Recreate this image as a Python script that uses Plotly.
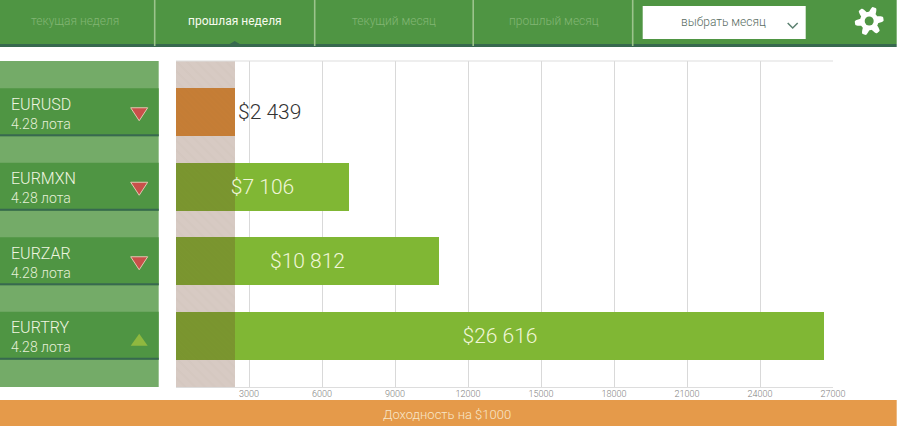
import numpy as np
import plotly.graph_objects as go

symbols = ["EURUSD", "EURMXN", "EURZAR", "EURTRY"]
lots = ["4.28 лота", "4.28 лота", "4.28 лота", "4.28 лота"]
profits = [2439, 7106, 10812, 26616]
value_labels = ["$2 439", "$7 106", "$10 812", "$26 616"]
directions = ["down", "down", "down", "up"]
x_ticks = [3000, 6000, 9000, 12000, 15000, 18000, 21000, 24000, 27000]
tabs = ["текущая неделя", "прошлая неделя", "текущий месяц", "прошлый месяц"]
active_tab = "прошлая неделя"
select_label = "выбрать месяц"
footer_label = "Доходность на $1000"

FONT = "Roboto"
THIN = 300
GREEN = "#4f9543"
PANEL = "#74ab68"
DARK = "#37694f"
SEP = "#9cc38c"
BAR_GREEN = "#80b734"
BAR_ORANGE = "#e7963d"
ORANGE = "#e59a4a"
BAND = "rgba(106,58,32,0.27)"

# page geometry in pixels
W, H = 900, 426
L, R, T, B = 176.3, 833.3, 61, 387
ROW = 74.5
Y_PAD = 0.688
BAR_H = 48


def px(x):
    return (x - L) / (R - L)


def py(y):
    return 1 - (y - T) / (B - T)


def rect(x0, y0, x1, y1, color):
    return dict(type="rect", xref="paper", yref="paper", x0=px(x0), x1=px(x1),
                y0=py(y0), y1=py(y1), fillcolor=color, line_width=0, layer="above")


def poly(points, color, line=None):
    d = "M " + " L ".join(f"{px(x):.5f},{py(y):.5f}" for x, y in points) + " Z"
    return dict(type="path", xref="paper", yref="paper", path=d, fillcolor=color,
                line=dict(width=0) if line is None else dict(width=1, color=line), layer="above")


def label(x, y, text, size, color, anchor="center", weight=THIN):
    return dict(xref="paper", yref="paper", x=px(x), y=py(y), text=text, showarrow=False,
                xanchor=anchor, yanchor="middle", borderpad=0,
                font=dict(family=FONT, weight=weight, size=size, color=color))


rows = list(range(len(symbols)))
fig = go.Figure()
fig.add_bar(x=profits, y=rows, orientation="h", width=BAR_H / ROW, hoverinfo="skip",
            marker=dict(color=[BAR_ORANGE if v == min(profits) else BAR_GREEN for v in profits], line_width=0))
# hatched band up to the smallest value, sits over the bars
fig.add_bar(x=[min(profits)], y=[sum(rows) / len(rows)], orientation="h", hoverinfo="skip",
            width=(B - T) / ROW,
            marker=dict(color=BAND, line_width=0,
                        pattern=dict(shape="\\", size=7, solidity=0.3, bgcolor=BAND,
                                     fgcolor="rgba(106,58,32,0.04)")))
# labels on their own trace so the band does not cover them
fig.add_bar(x=profits, y=rows, orientation="h", width=BAR_H / ROW, hoverinfo="skip",
            marker=dict(color="rgba(0,0,0,0)", line_width=0),
            text=value_labels, cliponaxis=False, constraintext="none", textangle=0,
            textposition=["outside" if v == min(profits) else "inside" for v in profits],
            insidetextanchor="middle",
            insidetextfont=dict(family=FONT, weight=THIN, size=21, color="#f0f6d8"),
            outsidetextfont=dict(family=FONT, weight=THIN, size=21, color="#333333"))

shapes = []
annotations = []

# top bar
shapes.append(rect(0, 0, 897, 44, GREEN))
shapes.append(rect(0, 44, 897, 47, DARK))
for x in [155, 315, 473.5, 633]:
    shapes.append(rect(x - 0.8, 0, x + 0.8, 46, SEP))
tab_centers = [75.5, 235, 394.5, 554]
for x, t in zip(tab_centers, tabs):
    on = t == active_tab
    annotations.append(label(x, 21, t, 12, "#f8fbee" if on else "#82b674", weight=400 if on else THIN))
    if on:
        shapes.append(poly([(x - 5, 44), (x, 41), (x + 5, 44)], DARK))
shapes.append(rect(643, 6, 806, 39, "white"))
annotations.append(label(723.5, 22, select_label, 12, "#5a6e64"))
shapes.append(dict(type="path", xref="paper", yref="paper", layer="above",
                   path=f"M {px(788)},{py(23)} L {px(793)},{py(28)} L {px(798)},{py(23)}",
                   line=dict(color="#5b8070", width=1.5)))

# gear
theta = np.linspace(0, 2 * np.pi, 181)[:-1]
radius = 11.8 + 2.6 * np.clip(1.5 * np.cos(6 * theta + 0.9), -1, 1)
shapes.append(poly(list(zip(869.5 + radius * np.cos(theta), 21 + radius * np.sin(theta))), "white"))
shapes.append(dict(type="circle", xref="paper", yref="paper", x0=px(865), x1=px(874), y0=py(25.5), y1=py(16.5),
                   fillcolor=GREEN, line=dict(width=0), layer="above"))

# left panel
shapes.append(rect(0, T, 159, B, PANEL))
for i, sym in enumerate(symbols):
    yc = T + (i + Y_PAD) * ROW
    top, bottom = yc - BAR_H / 2, yc + BAR_H / 2
    shapes.append(rect(0, top, 159, bottom, GREEN))
    shapes.append(rect(0, bottom - 2, 159, bottom, DARK))
    annotations.append(label(10.5, yc - 8, sym, 16, "#f0f6e0", "left"))
    annotations.append(label(10.5, yc + 11.5, lots[i], 14, "#e6f0d8", "left"))
    if directions[i] == "down":
        shapes.append(poly([(131, yc - 4.5), (148, yc - 4.5), (139.5, yc + 8.5)], "#c9504a", "#dfc9b0"))
    else:
        shapes.append(poly([(131, yc + 10), (148, yc + 10), (139.5, yc - 2)], "#8fb83f"))

# footer
shapes.append(rect(0, 400, 897, 426, ORANGE))
annotations.append(label(447.5, 414, footer_label, 13, "#f8e6c8"))

fig.update_layout(
    width=W, height=H,
    margin=dict(l=L, r=W - R, t=T, b=H - B, pad=0, autoexpand=False),
    paper_bgcolor="white", plot_bgcolor="white",
    barmode="overlay", bargap=0, showlegend=False,
    shapes=shapes, annotations=annotations,
    font=dict(family=FONT),
)
fig.update_xaxes(range=[0, max(x_ticks)], tickvals=x_ticks, ticktext=[str(v) for v in x_ticks],
                 tickfont=dict(family=FONT, weight=THIN, size=9, color="#808080"), ticks="", showgrid=True,
                 gridcolor="#d9d9d9", gridwidth=1, showline=True, linecolor="#dddddd", zeroline=False,
                 tickangle=0, fixedrange=True, ticklabelstandoff=-2)
fig.update_yaxes(range=[len(symbols) - 1 + Y_PAD, -Y_PAD], showticklabels=False, ticks="", showgrid=False,
                 zeroline=False, showline=False, fixedrange=True)
# thin rule along the top of the plot
fig.add_shape(type="line", xref="paper", yref="paper", x0=0, x1=1, y0=1, y1=1,
              line=dict(color="#dddddd", width=1))

fig.write_html("out.html", config=dict(displayModeBar=False),
               post_script="document.body.style.margin='0';document.body.style.overflow='hidden';")
